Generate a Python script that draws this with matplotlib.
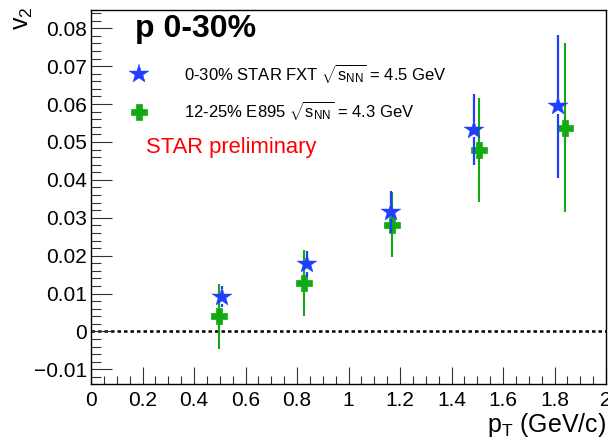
import matplotlib
matplotlib.use("Agg")
import matplotlib.pyplot as plt
from matplotlib.lines import Line2D
from matplotlib.ticker import MultipleLocator, FuncFormatter

plt.rcParams['font.family'] = ['Liberation Sans', 'DejaVu Sans']
plt.rcParams['mathtext.fontset'] = 'custom'
plt.rcParams['mathtext.rm'] = 'Liberation Sans'
plt.rcParams['mathtext.it'] = 'Liberation Sans:italic'
plt.rcParams['mathtext.bf'] = 'Liberation Sans:bold'

# STAR FXT sqrt(sNN)=4.5 GeV, 0-30% centrality
star_pt = [0.51, 0.838, 1.164, 1.487, 1.812]
star_v2 = [0.0092, 0.0178, 0.0316, 0.0532, 0.0594]
star_err = [0.0027, 0.0035, 0.0055, 0.0094, 0.0188]

# E895 sqrt(sNN)=4.3 GeV, 12-25% centrality
e895_pt = [0.497, 0.828, 1.168, 1.508, 1.841]
e895_v2 = [0.0040, 0.0129, 0.0282, 0.0479, 0.0538]
e895_err = [0.0085, 0.0087, 0.0086, 0.0137, 0.0222]

star_label = r"0-30% STAR FXT $\sqrt{\mathrm{s}_{\mathrm{NN}}}$ = 4.5 GeV"
e895_label = r"12-25% E895 $\sqrt{\mathrm{s}_{\mathrm{NN}}}$ = 4.3 GeV"

blue = '#1f3fff'
green = '#11aa11'

xmin, xmax = 0.0, 2.0
ymin, ymax = -0.01385, 0.0848

fig = plt.figure(figsize=(6.08, 4.44), dpi=100)
ax = fig.add_axes([91/608, 60/444, 515/608, 374/444])
ax.set_xlim(xmin, xmax)
ax.set_ylim(ymin, ymax)

# dotted line at v2 = 0
ax.axhline(0, color='k', lw=1.8, ls=(0, (1.4, 1.2)), zorder=1)

# E895 points
ax.errorbar(e895_pt, e895_v2, yerr=e895_err, fmt='none', ecolor=green,
            elinewidth=1.5, capsize=0, zorder=2)
ax.plot(e895_pt, e895_v2, ls='none', marker='P', ms=11, color=green,
        mec=green, mew=0.5, zorder=3)

# STAR points: error bar leaves a gap around the marker, ROOT style
ax_h_px = 374
gap = 7.5 * (ymax - ymin) / ax_h_px
for x, y, e in zip(star_pt, star_v2, star_err):
    if e > gap:
        ax.vlines(x, y + gap, y + e, color=blue, lw=1.6, zorder=4)
        ax.vlines(x, y - e, y - gap, color=blue, lw=1.6, zorder=4)
ax.plot(star_pt, star_v2, ls='none', marker='*', ms=15, color=blue,
        mec=blue, mew=0.3, zorder=5)

# ticks
ax.xaxis.set_major_locator(MultipleLocator(0.2))
ax.xaxis.set_minor_locator(MultipleLocator(0.05))
ax.yaxis.set_major_locator(MultipleLocator(0.01))
ax.yaxis.set_minor_locator(MultipleLocator(0.002))
ax.xaxis.set_major_formatter(FuncFormatter(lambda v, p: f"{v:g}".replace('-', '\u2212')))
ax.yaxis.set_major_formatter(FuncFormatter(lambda v, p: f"{round(v, 4):g}".replace('-', '\u2212')))
ax.tick_params(axis='both', which='both', direction='in', top=False, right=False,
               labelsize=15, width=0.8, color='#333333')
ax.tick_params(axis='y', which='major', length=15, pad=3)
ax.tick_params(axis='y', which='minor', length=7)
ax.tick_params(axis='x', which='major', length=12, pad=5)
ax.tick_params(axis='x', which='minor', length=6)
for s in ax.spines.values():
    s.set_linewidth(1.0)

# axis titles
fig.text(23/608, 1 - 6/444, r"v$_2$", rotation=90, ha='center', va='top', fontsize=18)
fig.text(606/608, 1 - 432/444, r"p$_\mathrm{T}$ (GeV/c)", ha='right', va='baseline', fontsize=18)

# annotations
fig.text(135/608, 1 - 37/444, "p 0-30%", fontsize=23, fontweight='bold', ha='left', va='baseline')
fig.text(146/608, 1 - 148/444, "STAR preliminary", color='#ff0000', fontsize=15.8,
         ha='left', va='center')

handles = [
    Line2D([], [], ls='none', marker='*', ms=15, color=blue, mew=0.3),
    Line2D([], [], ls='none', marker='P', ms=11, color=green, mew=0.5),
]
ax.legend(handles, [star_label, e895_label], loc='upper left',
          bbox_to_anchor=(131/608, 1 - 62/444), bbox_transform=fig.transFigure,
          frameon=False, fontsize=12, handlelength=1.0, handletextpad=2.2,
          labelspacing=0.85, borderpad=0, borderaxespad=0)

fig.savefig('out.png', dpi=100)
